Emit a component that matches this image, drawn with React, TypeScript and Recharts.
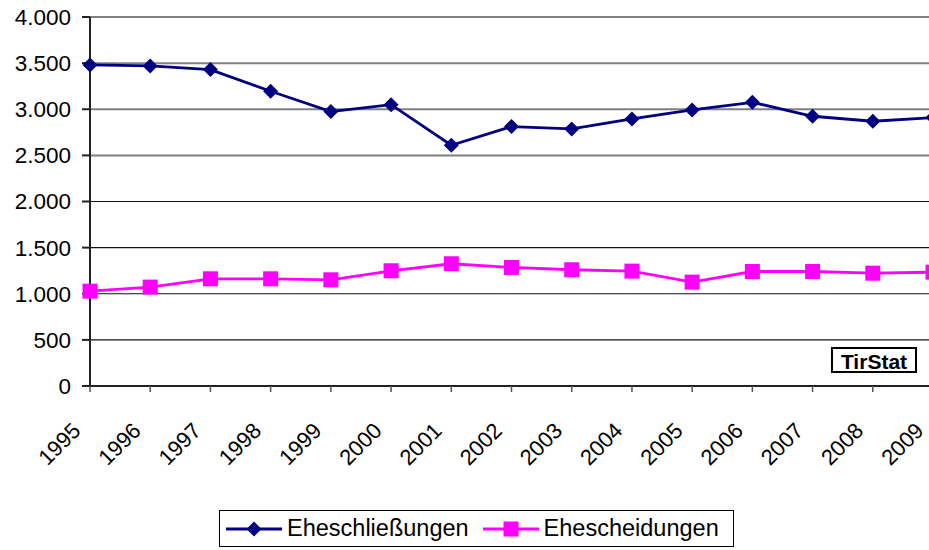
import { LineChart, Line, XAxis, YAxis, CartesianGrid } from 'recharts';

const years = ['1995', '1996', '1997', '1998', '1999', '2000', '2001', '2002', '2003', '2004', '2005', '2006', '2007', '2008', '2009'];
const marriages = [3480, 3470, 3430, 3195, 2975, 3050, 2610, 2812, 2787, 2895, 2993, 3075, 2924, 2870, 2910];
const divorces = [1028, 1072, 1162, 1162, 1151, 1249, 1325, 1285, 1260, 1245, 1126, 1241, 1241, 1223, 1234];
const yTicks = [0, 500, 1000, 1500, 2000, 2500, 3000, 3500, 4000];

const data = years.map((year, i) => ({ year, marriages: marriages[i], divorces: divorces[i] }));

const NAVY = '#000080';
const MAGENTA = '#FF00FF';
const FONT = '"Liberation Sans", Arial, sans-serif';

const fmt = (v: number) => String(v).replace(/\B(?=(\d{3})+(?!\d))/g, '.');

const Diamond = ({ cx, cy }: any) => (
  <path d={`M${cx},${cy - 7.5} L${cx + 7.5},${cy} L${cx},${cy + 7.5} L${cx - 7.5},${cy} Z`} fill={NAVY} />
);

const Square = ({ cx, cy }: any) => (
  <rect x={cx - 7.5} y={cy - 7.5} width={15} height={15} fill={MAGENTA} />
);

// upper grid lines come out grey and thicker in the source, lower ones thin black
const GridLine = (props: any) => {
  const upper = props.y1 < 180;
  return (
    <line x1={props.x1} y1={props.y1} x2={props.x2} y2={props.y2}
      stroke={upper ? '#808080' : '#111'} strokeWidth={upper ? 2 : 1.2} />
  );
};

const YearTick = ({ x, y, payload }: any) => {
  const tx = x - 8;
  const ty = y + 38;
  return (
    <text x={tx} y={ty} transform={`rotate(-45 ${tx} ${ty})`} textAnchor="end" fontSize={22} fill="#000" fontFamily={FONT}>
      {payload.value}
    </text>
  );
};

export default function App() {
  return (
    <div style={{ position: 'relative', width: 929, height: 550, overflow: 'hidden', background: '#fff', fontFamily: FONT }}>
      <style>{'body{margin:0}'}</style>
      <LineChart width={940} height={550} data={data} margin={{ top: 17, right: 7, bottom: 104, left: 0 }}>
        <CartesianGrid vertical={false} horizontal={(p: any) => <GridLine key={p.key} {...p} />} />
        <XAxis
          dataKey="year"
          height={60}
          tick={<YearTick />}
          tickSize={6}
          stroke="#000"
          strokeWidth={1.5}
          tickLine={{ stroke: '#555' }}
          interval={0}
        />
        <YAxis
          domain={[0, 4000]}
          ticks={yTicks}
          width={90}
          tickSize={8}
          tickMargin={11}
          stroke="#222"
          strokeWidth={2}
          tickFormatter={fmt}
          tick={{ fontSize: 22.5, fill: '#000', fontFamily: FONT }}
          interval={0}
        />
        <Line dataKey="marriages" name="Eheschließungen" stroke={NAVY} strokeWidth={2.8} dot={<Diamond />} isAnimationActive={false} />
        <Line dataKey="divorces" name="Ehescheidungen" stroke={MAGENTA} strokeWidth={2.8} dot={<Square />} isAnimationActive={false} />
      </LineChart>

      <div style={{ position: 'absolute', left: 831, top: 347, width: 82, height: 22, border: '2px solid #000', fontWeight: 'bold', fontSize: 21, lineHeight: '26px', textAlign: 'center', overflow: 'hidden' }}>
        TirStat
      </div>

      <div style={{ position: 'absolute', left: 219, top: 510, width: 515, height: 37, border: '1px solid #000', boxSizing: 'border-box', display: 'flex', alignItems: 'center', fontSize: 23.5, whiteSpace: 'nowrap' }}>
        <svg width={56} height={16} style={{ marginLeft: 6, flex: 'none' }}>
          <line x1={0} y1={8} x2={56} y2={8} stroke={NAVY} strokeWidth={2.8} />
          <path d="M28,0.5 L35.5,8 L28,15.5 L20.5,8 Z" fill={NAVY} />
        </svg>
        <span style={{ marginLeft: 5 }}>Eheschließungen</span>
        <svg width={56} height={16} style={{ marginLeft: 14, flex: 'none' }}>
          <line x1={0} y1={8} x2={56} y2={8} stroke={MAGENTA} strokeWidth={2.8} />
          <rect x={20.5} y={0.5} width={15} height={15} fill={MAGENTA} />
        </svg>
        <span style={{ marginLeft: 5 }}>Ehescheidungen</span>
      </div>
    </div>
  );
}
